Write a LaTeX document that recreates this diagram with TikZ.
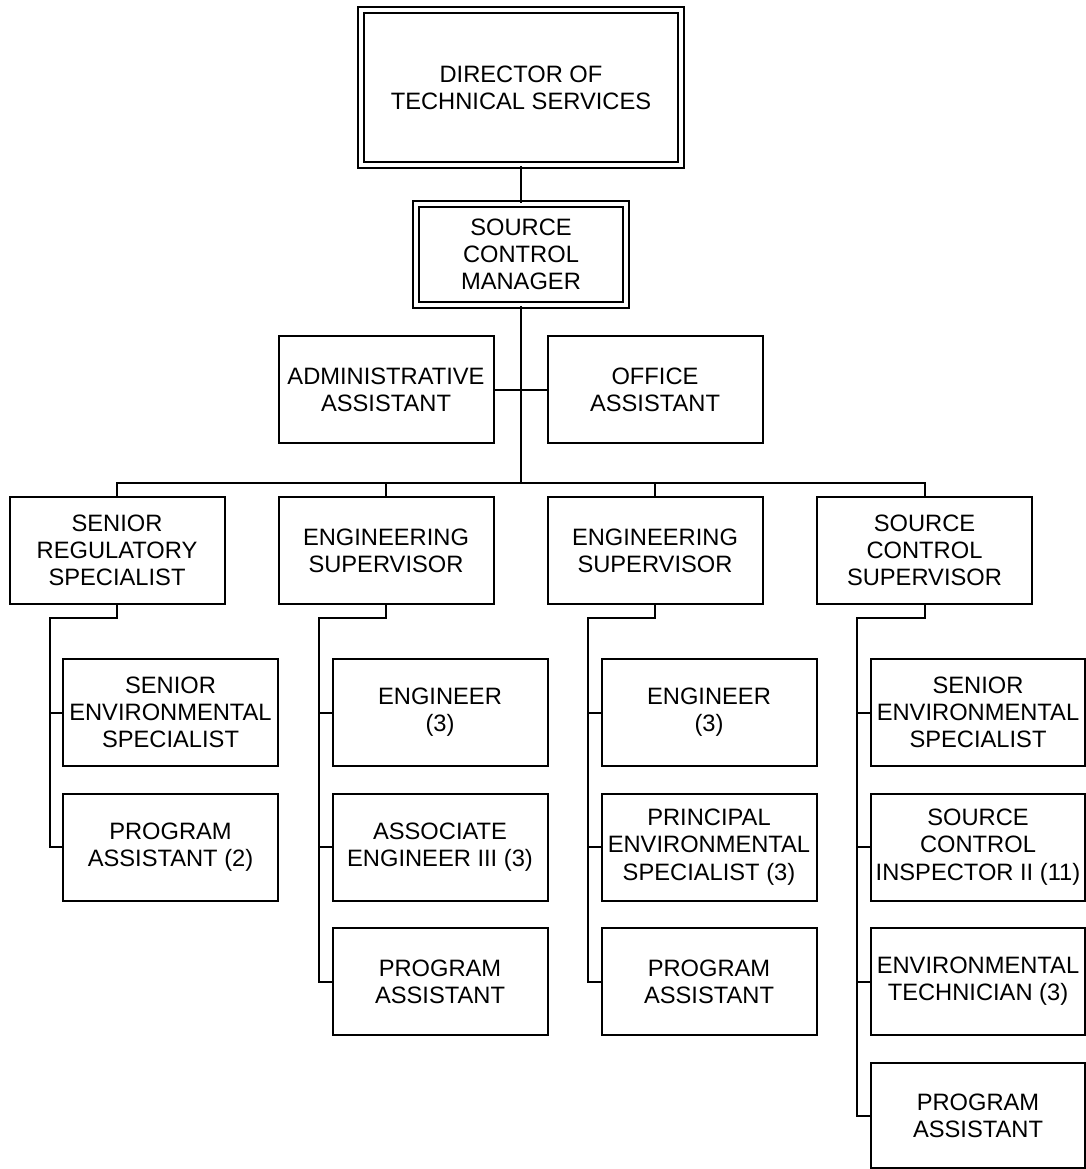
\documentclass[tikz,border=0pt]{standalone}
\usepackage{fontspec}
\setmainfont{Liberation Sans}
\begin{document}
\begin{tikzpicture}[x=0.5pt,y=-0.5pt,
  every node/.style={font=\fontsize{11.85pt}{13.6pt}\selectfont, align=center, inner sep=0pt},
  box/.style={draw, line width=1pt, rectangle, minimum width=107.5pt, minimum height=53.5pt},
  dbox/.style={draw, line width=1pt, double, double distance=2pt, rectangle},
  link/.style={line width=1pt}]
\useasboundingbox (0,0) rectangle (1086,1169);
% top
\node[dbox, minimum width=160pt, minimum height=77.5pt] (dir) at (521,87.5) {DIRECTOR OF\\TECHNICAL SERVICES};
\node[dbox, minimum width=105pt, minimum height=50.5pt] (scm) at (521,254.5) {SOURCE\\CONTROL\\MANAGER};
\node[box] (adm) at (386,389.5) {ADMINISTRATIVE\\ASSISTANT};
\node[box] (off) at (655,389.5) {OFFICE\\ASSISTANT};
% level 2
\node[box] (l1) at (117,550.5) {SENIOR\\REGULATORY\\SPECIALIST};
\node[box] (l2) at (386,550.5) {ENGINEERING\\SUPERVISOR};
\node[box] (l3) at (655,550.5) {ENGINEERING\\SUPERVISOR};
\node[box] (l4) at (924.5,550.5) {SOURCE\\CONTROL\\SUPERVISOR};
% column 1
\node[box] (a1) at (170.5,712.5) {SENIOR\\ENVIRONMENTAL\\SPECIALIST};
\node[box] (a2) at (170.5,847) {PROGRAM\\ASSISTANT (2)};
% column 2
\node[box] (b1) at (440,712.5) {ENGINEER\\(3)};
\node[box] (b2) at (440,847) {ASSOCIATE\\ENGINEER III (3)};
\node[box] (b3) at (440,981.5) {PROGRAM\\ASSISTANT};
% column 3
\node[box] (c1) at (709,712.5) {ENGINEER\\(3)};
\node[box] (c2) at (709,847) {PRINCIPAL\\ENVIRONMENTAL\\SPECIALIST (3)};
\node[box] (c3) at (709,981.5) {PROGRAM\\ASSISTANT};
% column 4
\node[box, minimum width=107pt] (d1) at (978,712.5) {SENIOR\\ENVIRONMENTAL\\SPECIALIST};
\node[box, minimum width=107pt] (d2) at (978,847) {SOURCE\\CONTROL\\INSPECTOR II (11)};
\node[box, minimum width=107pt] (d3) at (978,981.5) {ENVIRONMENTAL\\TECHNICIAN (3)};
\node[box, minimum width=107pt, minimum height=52.5pt] (d4) at (978,1115.5) {PROGRAM\\ASSISTANT};
% coordinates
\coordinate (bar) at (521,483);
\coordinate (j1) at (50,618);
\coordinate (j2) at (319,618);
\coordinate (j3) at (588,618);
\coordinate (j4) at (857,618);
% connectors
\draw[link] (dir.south) -- (scm.north);
\draw[link] (scm.south) -- (bar);
\draw[link] (adm.east) -- (off.west);
\draw[link] (l1.north) |- (bar) -| (l4.north);
\draw[link] (l2.north) -- (l2.north |- bar);
\draw[link] (l3.north) -- (l3.north |- bar);
% column 1
\draw[link] (l1.south) |- (j1) |- (a2.west);
\draw[link] (a1.west) -- (j1 |- a1.west);
% column 2
\draw[link] (l2.south) |- (j2) |- (b3.west);
\draw[link] (b1.west) -- (j2 |- b1.west);
\draw[link] (b2.west) -- (j2 |- b2.west);
% column 3
\draw[link] (l3.south) |- (j3) |- (c3.west);
\draw[link] (c1.west) -- (j3 |- c1.west);
\draw[link] (c2.west) -- (j3 |- c2.west);
% column 4
\draw[link] (l4.south) |- (j4) |- (d4.west);
\draw[link] (d1.west) -- (j4 |- d1.west);
\draw[link] (d2.west) -- (j4 |- d2.west);
\draw[link] (d3.west) -- (j4 |- d3.west);
\end{tikzpicture}
\end{document}
